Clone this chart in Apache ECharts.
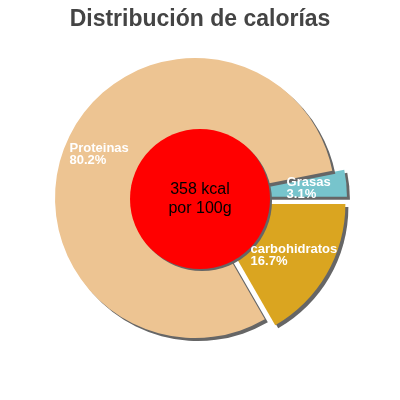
<!DOCTYPE html>
<html><head><meta charset="utf-8">
<script src="https://cdn.jsdelivr.net/npm/echarts@6/dist/echarts.min.js"></script>
<style>html,body{margin:0;padding:0;background:#fff}#c{width:400px;height:400px}</style>
</head><body><div id="c"></div>
<script>
const categories = ['Grasas', 'carbohidratos', 'Proteinas'];
const values = [3.1, 16.7, 80.2];
const colors = ['#77c4cc', '#daa520', '#edc492'];
const exploded = [true, true, false];
const centerText = ['358 kcal', 'por 100g'];
const titleText = 'Distribución de calorías';
const labelShift = [[7, -1.5], [-18, 14.5], [-59, -13.5]];

const chart = echarts.init(document.getElementById('c'));
chart.setOption({
  animation: false,
  title: { text: titleText, left: 'center', top: 3,
    textStyle: { fontFamily: 'Liberation Sans', fontSize: 23, fontWeight: 'bold', color: '#444' } },
  series: [
    {
      type: 'pie', center: [195, 198], radius: [0, 140], startAngle: 11.2, clockwise: true,
      selectedMode: 'multiple', selectedOffset: 12,
      data: categories.map((n, i) => ({ name: n, value: values[i], selected: exploded[i],
        itemStyle: { color: colors[i] } })),
      itemStyle: { shadowColor: '#666', shadowOffsetX: 3, shadowOffsetY: 3, shadowBlur: 0 },
      label: { position: 'inside', color: '#fff', fontFamily: 'Liberation Sans', fontSize: 13,
        fontWeight: 'bold', lineHeight: 12, align: 'left',
        formatter: p => p.name + '\n' + p.value.toFixed(1) + '%' },
      labelLayout: p => ({ dx: labelShift[p.dataIndex][0], dy: labelShift[p.dataIndex][1], align: 'left' }),
      labelLine: { show: false },
      emphasis: { disabled: true }, silent: true
    },
    {
      type: 'pie', center: [200, 199], radius: [0, 70], silent: true,
      data: [{ name: 'c', value: 1, itemStyle: { color: '#ff0000' } }],
      itemStyle: { shadowColor: '#666', shadowOffsetX: 2, shadowOffsetY: 2, shadowBlur: 0 },
      label: { position: 'center', formatter: centerText.join('\n'), color: '#000',
        fontFamily: 'Liberation Sans', fontSize: 16, lineHeight: 19 },
      labelLine: { show: false }, emphasis: { disabled: true }
    }
  ]
});
</script></body></html>
